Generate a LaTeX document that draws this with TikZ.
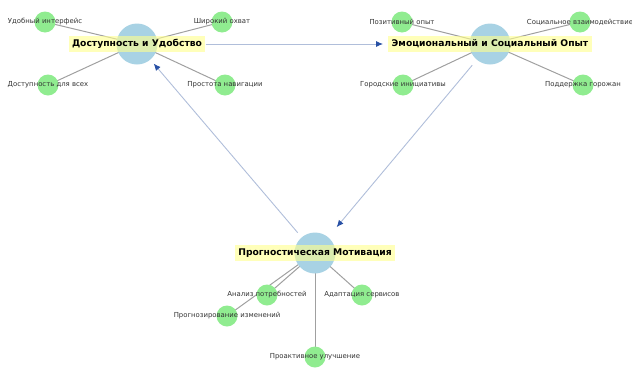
\documentclass[tikz,border=0pt]{standalone}
\usepackage{fontspec}
\setmainfont{DejaVu Sans}
\usetikzlibrary{arrows.meta,backgrounds}
\definecolor{mainblue}{RGB}{168,210,228}
\definecolor{subgreen}{RGB}{144,236,144}
\definecolor{labyellow}{RGB}{255,255,140}
\definecolor{edgegray}{RGB}{160,160,160}
\definecolor{arrline}{RGB}{176,190,218}
\definecolor{arrhead}{RGB}{40,80,165}
\tikzset{
  mainnode/.style={circle,fill=mainblue,minimum size=41pt,inner sep=0pt},
  subnode/.style={circle,fill=subgreen,minimum size=21pt,inner sep=0pt},
  mainlab/.style={fill=labyellow,fill opacity=0.6,text opacity=1,font=\fontsize{9.2}{11}\selectfont\bfseries,inner xsep=3.5pt,inner ysep=3.5pt},
  sublab/.style={font=\fontsize{6.9}{8}\selectfont,text=black!80,inner sep=0pt},
  spoke/.style={draw=edgegray,line width=1pt},
  flow/.style={draw=arrline,line width=0.9pt,-{Latex[length=7pt,width=6pt,color=arrhead]}}
}
\begin{document}
\begin{tikzpicture}[x=1pt,y=-1pt]
\useasboundingbox (0,0) rectangle (632,370);
% main nodes
\node[mainnode] (a) at (137,44) {};
\node[mainnode] (b) at (490,44) {};
\node[mainnode] (c) at (315,253) {};
% sub nodes A
\node[subnode] (a1) at (45,22) {};
\node[subnode] (a2) at (222,22) {};
\node[subnode] (a3) at (48,85) {};
\node[subnode] (a4) at (225,85) {};
% sub nodes B
\node[subnode] (b1) at (402,22) {};
\node[subnode] (b2) at (580,22) {};
\node[subnode] (b3) at (403,85) {};
\node[subnode] (b4) at (583,85) {};
% sub nodes C
\node[subnode] (c1) at (267,295) {};
\node[subnode] (c2) at (362,295) {};
\node[subnode] (c3) at (227,316) {};
\node[subnode] (c4) at (315,357) {};
% main labels
\node[mainlab] (alab) at (137,44) {Доступность и Удобство};
\node[mainlab] (blab) at (490,44) {Эмоциональный и Социальный Опыт};
\node[mainlab] (clab) at (315,253) {Прогностическая Мотивация};
% sub labels
\node[sublab] (ta1) at (a1) {Удобный интерфейс};
\node[sublab] (ta2) at (a2) {Широкий охват};
\node[sublab] (ta3) at (a3) {Доступность для всех};
\node[sublab] (ta4) at (a4) {Простота навигации};
\node[sublab] (tb1) at (b1) {Позитивный опыт};
\node[sublab] (tb2) at (b2) {Социальное взаимодействие};
\node[sublab] (tb3) at (b3) {Городские инициативы};
\node[sublab] (tb4) at (b4) {Поддержка горожан};
\node[sublab] (tc1) at (c1) {Анализ потребностей};
\node[sublab] (tc2) at (c2) {Адаптация сервисов};
\node[sublab] (tc3) at (c3) {Прогнозирование изменений};
\node[sublab] (tc4) at (c4) {Проактивное улучшение};
\begin{scope}[on background layer]
\foreach \s in {a1,a2,a3,a4} \draw[spoke] (a.center) -- (\s.center);
\foreach \s in {b1,b2,b3,b4} \draw[spoke] (b.center) -- (\s.center);
\draw[spoke] (c.center) -- (c1.center);
\draw[spoke] (c.center) -- (c2.center);
\draw[spoke] (c.center) -- (c4.center);
\draw[spoke] ([xshift=-2pt,yshift=-1pt]c.center) -- (c3.center);
\draw[flow] (alab.east) -- ([xshift=-5pt]blab.west);
\draw[flow,shorten <=7pt,shorten >=13pt] (b) -- (c);
\draw[flow,shorten <=6pt,shorten >=5pt] (c) -- (a);
\end{scope}
\end{tikzpicture}
\end{document}
